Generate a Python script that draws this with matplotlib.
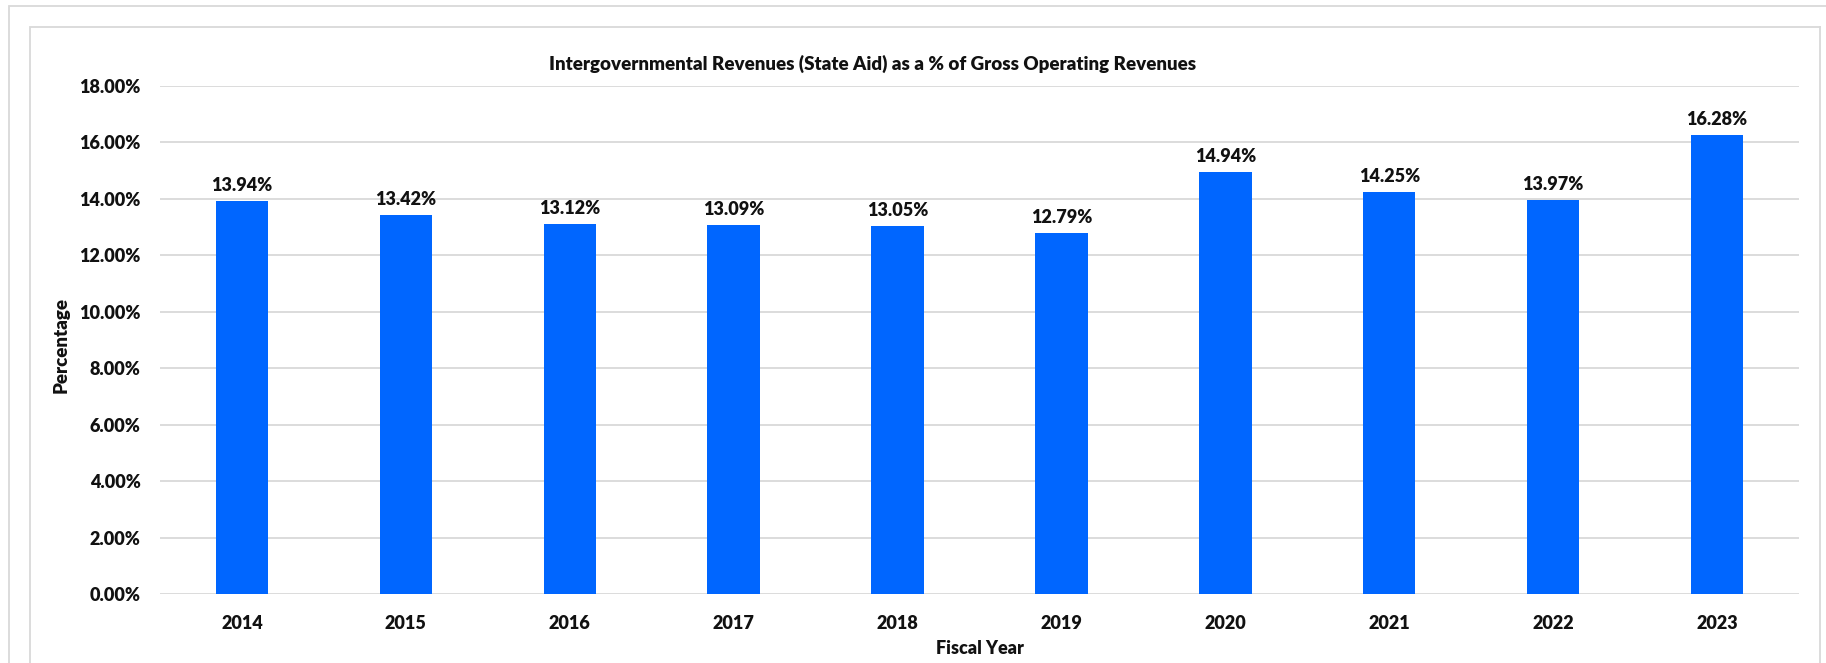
import matplotlib
matplotlib.use("Agg")
import matplotlib.pyplot as plt
from matplotlib.patches import Rectangle
from matplotlib.ticker import FuncFormatter, MultipleLocator

years = ["2014", "2015", "2016", "2017", "2018", "2019", "2020", "2021", "2022", "2023"]
state_aid_pct = [13.94, 13.42, 13.12, 13.09, 13.05, 12.79, 14.94, 14.25, 13.97, 16.28]

title = "Intergovernmental Revenues (State Aid) as a % of Gross Operating Revenues"
x_label = "Fiscal Year"
y_label = "Percentage"

BAR_COLOR = "#0066FF"
GRID_COLOR = "#D9D9D9"
FRAME_COLOR = "#D9D9D9"
TEXT_COLOR = "#111111"
FONT = ["Lato", "DejaVu Sans"]
WEIGHT = "heavy"

W, H = 1826, 663
fig = plt.figure(figsize=(W / 100, H / 100), dpi=100)
fig.patch.set_facecolor("white")

def px(x, y):
    return x / W, 1 - y / H

# outer and inner chart frames
for (x0, y0) in [(9, 6), (30, 27)]:
    fx, fy = px(x0, y0)
    fig.add_artist(Rectangle((fx, -0.1), 1.2, fy + 0.1, transform=fig.transFigure,
                             fill=False, edgecolor=FRAME_COLOR, linewidth=1.3))
# inner frame right edge
fx, fy = px(1820, 27)
fig.add_artist(plt.Line2D([fx, fx], [-0.1, fy], transform=fig.transFigure,
                          color=FRAME_COLOR, linewidth=1.3))
# cover outer frame right part beyond inner frame
fig.add_artist(Rectangle((px(1821, 0)[0], -0.1), 0.1, px(0, 7)[1] + 0.1,
                         transform=fig.transFigure, facecolor="white",
                         edgecolor="none"))

left, right = 160, 1799
top, bottom = 86, 594
ax = fig.add_axes([left / W, 1 - bottom / H, (right - left) / W, (bottom - top) / H])

x = range(len(years))
ax.bar(x, state_aid_pct, width=0.32, color=BAR_COLOR, zorder=3)

for xi, v in zip(x, state_aid_pct):
    ax.annotate(f"{v:.2f}%", (xi, v), xytext=(0, 5), textcoords="offset points",
                ha="center", va="bottom", fontsize=13, fontweight=WEIGHT,
                family=FONT, color=TEXT_COLOR)

ax.set_xlim(-0.5, len(years) - 0.5)
ax.set_ylim(0, 18)
ax.yaxis.set_major_locator(MultipleLocator(2))
ax.yaxis.set_major_formatter(FuncFormatter(lambda v, _: f"{v:.2f}%"))
ax.set_xticks(list(x))
ax.set_xticklabels(years)

ax.grid(axis="y", color=GRID_COLOR, linewidth=1.3, zorder=0)
ax.set_axisbelow(True)
for s in ax.spines.values():
    s.set_visible(False)
ax.tick_params(axis="both", length=0, colors=TEXT_COLOR)
ax.tick_params(axis="y", pad=14)
ax.tick_params(axis="x", pad=15)
for lab in ax.get_xticklabels() + ax.get_yticklabels():
    lab.set_fontsize(13)
    lab.set_fontweight(WEIGHT)
    lab.set_family(FONT)

fig.text(873 / W, 1 - 64 / H, title, ha="center", va="center",
         fontsize=13.5, fontweight=WEIGHT, family=FONT, color=TEXT_COLOR)
fig.text(980 / W, 1 - 649 / H, x_label, ha="center", va="center",
         fontsize=13, fontweight=WEIGHT, family=FONT, color=TEXT_COLOR)
fig.text(61 / W, 1 - 345 / H, y_label, ha="center", va="center", rotation=90,
         fontsize=13.5, fontweight=WEIGHT, family=FONT, color=TEXT_COLOR)

fig.savefig("out.png", dpi=100, facecolor="white")
